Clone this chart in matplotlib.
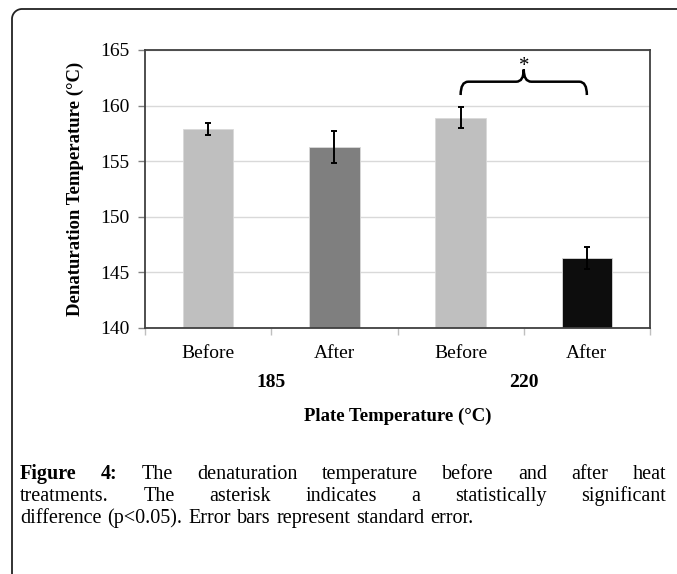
import numpy as np
import matplotlib
matplotlib.use("Agg")
import matplotlib.pyplot as plt
from matplotlib.path import Path
import matplotlib.patches as patches
from matplotlib.lines import Line2D

# data
treatments = ["Before", "After", "Before", "After"]
plate_temps = ["185", "220"]
denat_temp = [157.9, 156.3, 158.9, 146.3]
std_err = [0.55, 1.45, 0.95, 0.95]
bar_colors = ["#BFBFBF", "#7F7F7F", "#BFBFBF", "#0D0D0D"]
yticks = [140, 145, 150, 155, 160, 165]
sig_pair = (2, 3)

caption_lines = [
    "Figure 4: The denaturation temperature before and after heat",
    "treatments. The asterisk indicates a statistically significant",
    "difference (p<0.05). Error bars represent standard error.",
]

W, H = 677, 574
fig = plt.figure(figsize=(W / 100, H / 100), dpi=100)
ax = fig.add_axes([145 / W, 1 - 328 / H, 505 / W, 278 / H])

serif = "Liberation Serif"
x = np.arange(len(denat_temp))
ax.bar(x, denat_temp, width=0.4, color=bar_colors, edgecolor="#d9d9d9",
       linewidth=0.6, bottom=0, zorder=2)
ax.errorbar(x, denat_temp, yerr=std_err, fmt="none", ecolor="black",
            elinewidth=1.4, capsize=2.2, capthick=1.4, zorder=3)

ax.set_ylim(yticks[0], yticks[-1])
ax.set_xlim(-0.5, len(x) - 0.5)
ax.set_yticks(yticks)
ax.set_yticklabels([str(t) for t in yticks], fontsize=14, family=serif)
ax.yaxis.grid(True, color="#d9d9d9", linewidth=1.0, zorder=0)
ax.set_axisbelow(True)
ax.tick_params(axis="y", length=5, width=1, color="#808080", pad=6)

# category labels and boundary ticks
ax.set_xticks(np.arange(-0.5, len(x)), minor=False)
ax.set_xticklabels([])
ax.tick_params(axis="x", length=5, width=1, color="#bfbfbf")
for i, t in enumerate(treatments):
    ax.text(i, -0.093, t, transform=ax.get_xaxis_transform(), ha="center",
            va="center", fontsize=14, family=serif)
for j, g in enumerate(plate_temps):
    ax.text(2 * j + 0.5, -0.195, g, transform=ax.get_xaxis_transform(),
            ha="center", va="center", fontsize=14, family=serif,
            fontweight="bold")

for s in ax.spines.values():
    s.set_color("#404040")
    s.set_linewidth(1.3)

ax.set_ylabel("Denaturation Temperature (°C)", fontsize=13.5, family=serif,
              fontweight="bold", labelpad=12)
fig.text(398 / W, 1 - 416 / H, "Plate Temperature (°C)", ha="center",
         va="center", fontsize=13.5, family=serif, fontweight="bold")

# significance brace
a, b = sig_pair
y0 = max(denat_temp[a] + std_err[a], denat_temp[b] + std_err[b]) + 1.1
y1 = y0 + 1.2
y2 = y1 + 1.1
mid = (a + b) / 2
dx = 0.06
verts = [(a, y0), (a, y1), (a + dx, y1), (mid - dx, y1), (mid, y1), (mid, y2),
         (mid, y1), (mid + dx, y1), (b - dx, y1), (b, y1), (b, y0)]
codes = [Path.MOVETO, Path.CURVE3, Path.CURVE3, Path.LINETO, Path.CURVE3,
         Path.CURVE3, Path.CURVE3, Path.CURVE3, Path.LINETO, Path.CURVE3,
         Path.CURVE3]
ax.add_patch(patches.PathPatch(Path(verts, codes), fill=False, lw=1.8,
                               edgecolor="black", zorder=4, clip_on=False))
ax.text(mid, y2 - 0.55, "*", ha="center", va="bottom", fontsize=15,
        family=serif)

# rounded frame around figure (left and top)
r = 10
ang = np.linspace(np.pi, np.pi / 2, 20)
px = np.concatenate([[12], 12 + r + r * np.cos(ang), [W]])
py = np.concatenate([[H], 9 + r - r * np.sin(ang), [9]])
fig.add_artist(Line2D(px / W, 1 - py / H, transform=fig.transFigure,
                      color="#222222", lw=1.3))

# justified caption
fig.canvas.draw()
renderer = fig.canvas.get_renderer()
left, right = 20, 666
line_base = [479, 501, 523]
for li, line in enumerate(caption_lines):
    words = line.split(" ")
    texts = []
    for k, w in enumerate(words):
        bold = li == 0 and k < 2
        t = fig.text(0, 1 - line_base[li] / H, w, ha="left", va="baseline",
                     fontsize=14.5, family=serif,
                     fontweight="bold" if bold else "normal")
        texts.append(t)
    widths = [t.get_window_extent(renderer).width for t in texts]
    if li < len(caption_lines) - 1:
        gap = (right - left - sum(widths)) / (len(words) - 1)
    else:
        gap = 6.0
    xpos = left
    for t, wd in zip(texts, widths):
        t.set_x(xpos / W)
        xpos += wd + gap

fig.savefig("out.png", dpi=100)
